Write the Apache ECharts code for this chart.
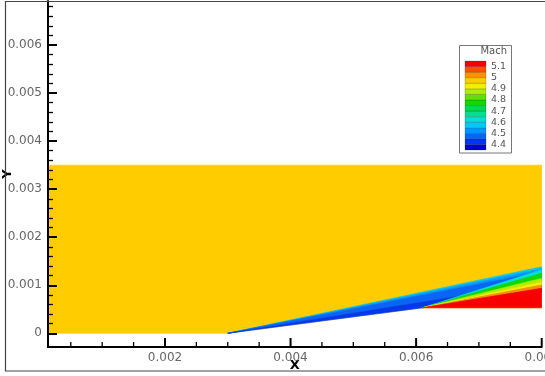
<!DOCTYPE html>
<html>
<head>
<meta charset="utf-8">
<script src="https://cdn.jsdelivr.net/npm/echarts@6/dist/echarts.min.js"></script>
<style>
  html, body { margin: 0; padding: 0; background: #fff; }
  #chart { width: 545px; height: 376px; }
</style>
</head>
<body>
<div id="chart"></div>
<script>
// ---- Axis ticks ----
const xMajorTicks = [0.002, 0.004, 0.006, 0.008];
const xMinorTicks = [0.0005, 0.001, 0.0015, 0.0025, 0.003, 0.0035, 0.0045, 0.005, 0.0055, 0.0065, 0.007, 0.0075];
const yMajorTicks = [0, 0.001, 0.002, 0.003, 0.004, 0.005, 0.006];
const yMinorTicks = [0.0002, 0.0004, 0.0006, 0.0008, 0.0012, 0.0014, 0.0016, 0.0018,
  0.0022, 0.0024, 0.0026, 0.0028, 0.0032, 0.0034, 0.0036, 0.0038,
  0.0042, 0.0044, 0.0046, 0.0048, 0.0052, 0.0054, 0.0056, 0.0058,
  0.0062, 0.0064, 0.0066, 0.0068];

// ---- Mach contour levels (bin edges) and their fill colours ----
const machLevels = [4.35, 4.40, 4.45, 4.50, 4.55, 4.60, 4.65, 4.70, 4.75,
  4.80, 4.85, 4.90, 4.95, 5.00, 5.05, 5.10, 5.15];
const levelColors = ['#0000d0', '#0038f0', '#0a64f4', '#0098ff', '#00c8f8', '#00e0d0',
  '#00e090', '#00d850', '#10d800', '#60e000', '#b0ec00', '#f0f000',
  '#ffcc00', '#ff9000', '#ff5000', '#f80000'];
const legendLabels = [4.4, 4.5, 4.6, 4.7, 4.8, 4.9, 5.0, 5.1];

// ---- Flow field over the wedge ----
const domainWidth = 0.008;
const domainHeight = 0.0035;
const wedgeTip = [0.003, 0];
const wedgeCorner = [0.0061, 0.00053];
const freestreamMach = 4.97;
// shock-layer bands spreading from the wedge tip: edge heights at the outlet, top to bottom
const tipRayHeights = [0.001386, 0.00134, 0.00128, 0.00105, 0.000855];
const tipBandMach = [4.57, 4.52, 4.47, 4.42];
// expansion fan from the wedge shoulder: edge heights at the outlet, top to bottom
const cornerRayHeights = [0.001323, 0.001249, 0.001145, 0.001074, 0.001005, 0.000937, 0.00053];
const cornerBandMach = [4.62, 4.77, 4.87, 4.92, 5.02, 5.12];

function machColor(m) {
  let i = Math.floor((m - machLevels[0]) / (machLevels[1] - machLevels[0]));
  i = Math.max(0, Math.min(levelColors.length - 1, i));
  return levelColors[i];
}

// contour regions as polygons in data units
const regions = [];
regions.push({
  pts: [[0, 0], wedgeTip, wedgeCorner, [domainWidth, wedgeCorner[1]],
        [domainWidth, domainHeight], [0, domainHeight]],
  mach: freestreamMach
});
for (let i = 0; i < tipBandMach.length; i++) {
  regions.push({
    pts: [wedgeTip, [domainWidth, tipRayHeights[i]], [domainWidth, tipRayHeights[i + 1]]],
    mach: tipBandMach[i]
  });
}
for (let i = 0; i < cornerBandMach.length; i++) {
  regions.push({
    pts: [wedgeCorner, [domainWidth, cornerRayHeights[i]], [domainWidth, cornerRayHeights[i + 1]]],
    mach: cornerBandMach[i]
  });
}

// legend cells, one per contour bin
const legendCells = levelColors.map((c, i) => [machLevels[i], machLevels[i + 1]]);

// ---- Layout ----
const tickFont = { fontFamily: 'DejaVu Sans', fontSize: 12, color: '#666' };
const xRange = { min: 0.000137, max: 0.008 };
const yRange = { min: -0.000285, max: 0.006916 };
const plotGrid = { left: 48, right: 3.3, top: 1, bottom: 29, containLabel: false, outerBoundsMode: 'none' };

// inward tick marks standing on the bottom axis line
function bottomTickSeries(values, len, width) {
  return {
    type: 'custom',
    xAxisIndex: 0, yAxisIndex: 0,
    clip: false, silent: true, z: 20,
    data: values.map(v => [v, yRange.min]),
    renderItem: (params, api) => {
      const p = api.coord([api.value(0), api.value(1)]);
      return {
        type: 'line',
        shape: { x1: p[0], y1: p[1], x2: p[0], y2: p[1] - len },
        style: { stroke: '#000', lineWidth: width }
      };
    }
  };
}

const chart = echarts.init(document.getElementById('chart'), null, { renderer: 'canvas' });
chart.setOption({
  animation: false,
  backgroundColor: '#fff',
  grid: [
    Object.assign({}, plotGrid),
    Object.assign({}, plotGrid),
    { left: 465, top: 61, width: 21, height: 89, containLabel: false, outerBoundsMode: 'none' }
  ],
  xAxis: [
    {
      gridIndex: 0, type: 'value', position: 'bottom', min: xRange.min, max: xRange.max,
      name: 'X', nameLocation: 'middle', nameGap: 12, nameMoveOverlap: false,
      nameTextStyle: { fontFamily: 'DejaVu Sans', fontSize: 13, fontWeight: 'bold', color: '#000' },
      axisLine: { show: true, onZero: false, lineStyle: { color: '#000', width: 2 } },
      axisTick: { show: false },
      axisLabel: Object.assign({ customValues: xMajorTicks, margin: 5,
        formatter: v => v.toFixed(3) }, tickFont),
      splitLine: { show: false }
    },
    { gridIndex: 1, type: 'value', min: xRange.min, max: xRange.max, show: false },
    { gridIndex: 2, type: 'value', min: 0, max: 1, show: false }
  ],
  yAxis: [
    {
      gridIndex: 0, type: 'value', position: 'left', min: yRange.min, max: yRange.max, z: 5,
      name: 'Y', nameLocation: 'middle', nameGap: 34, nameMoveOverlap: false,
      nameTextStyle: { fontFamily: 'DejaVu Sans', fontSize: 13, fontWeight: 'bold', color: '#000' },
      axisLine: { show: true, onZero: false, lineStyle: { color: '#000', width: 2 } },
      axisTick: { show: true, inside: true, length: 9, customValues: yMajorTicks, lineStyle: { color: '#000', width: 2 } },
      axisLabel: Object.assign({ customValues: yMajorTicks, margin: 6,
        formatter: v => (v === 0 ? '0' : v.toFixed(3)) }, tickFont),
      splitLine: { show: false }
    },
    {
      gridIndex: 1, type: 'value', position: 'left', min: yRange.min, max: yRange.max, z: 5,
      axisLine: { show: true, onZero: false, lineStyle: { color: 'rgba(0,0,0,0)', width: 0 } },
      axisTick: { show: true, inside: true, length: 5, customValues: yMinorTicks, lineStyle: { color: '#000', width: 1.3 } },
      axisLabel: { show: false, customValues: yMinorTicks },
      splitLine: { show: false }
    },
    {
      gridIndex: 2, type: 'value', min: machLevels[0], max: machLevels[machLevels.length - 1],
      position: 'right',
      axisLine: { show: false },
      axisTick: { show: false },
      splitLine: { show: false },
      axisLabel: {
        customValues: legendLabels, margin: 5,
        fontFamily: 'DejaVu Sans', fontSize: 9.5, color: '#555',
        formatter: v => String(Math.round(v * 10) / 10)
      }
    }
  ],
  series: [
    {
      type: 'custom',
      xAxisIndex: 0, yAxisIndex: 0,
      clip: true,
      data: regions.map(r => [r.pts[0][0], r.pts[0][1], r.mach]),
      renderItem: (params, api) => {
        const r = regions[params.dataIndex];
        const c = machColor(r.mach);
        return {
          type: 'polygon',
          shape: { points: r.pts.map(p => api.coord(p)) },
          style: { fill: c, stroke: c, lineWidth: 0.6 }
        };
      }
    },
    bottomTickSeries(xMajorTicks, 9, 2),
    bottomTickSeries(xMinorTicks, 5, 1.3),
    {
      type: 'custom',
      xAxisIndex: 2, yAxisIndex: 2,
      data: legendCells,
      renderItem: (params, api) => {
        const lo = api.coord([0, api.value(0)]);
        const hi = api.coord([1, api.value(1)]);
        return {
          type: 'rect',
          shape: { x: lo[0], y: hi[1], width: hi[0] - lo[0], height: lo[1] - hi[1] },
          style: { fill: levelColors[params.dataIndex], stroke: 'rgba(0,0,0,0.35)', lineWidth: 0.5 }
        };
      }
    }
  ],
  graphic: [
    {
      type: 'rect', silent: true, z: 100,
      shape: { x: 5.5, y: 1.5, width: 600, height: 369.5 },
      style: { fill: 'none', stroke: '#444', lineWidth: 1.2 }
    },
    {
      type: 'rect', silent: true, z: 100,
      shape: { x: 459.5, y: 45.5, width: 52, height: 107.5 },
      style: { fill: 'none', stroke: '#777', lineWidth: 1 }
    },
    {
      type: 'text', silent: true, z: 100,
      style: { x: 507, y: 51, text: 'Mach', align: 'right', verticalAlign: 'middle',
        font: '10px "DejaVu Sans"', fill: '#555' }
    }
  ]
});
</script>
</body>
</html>
